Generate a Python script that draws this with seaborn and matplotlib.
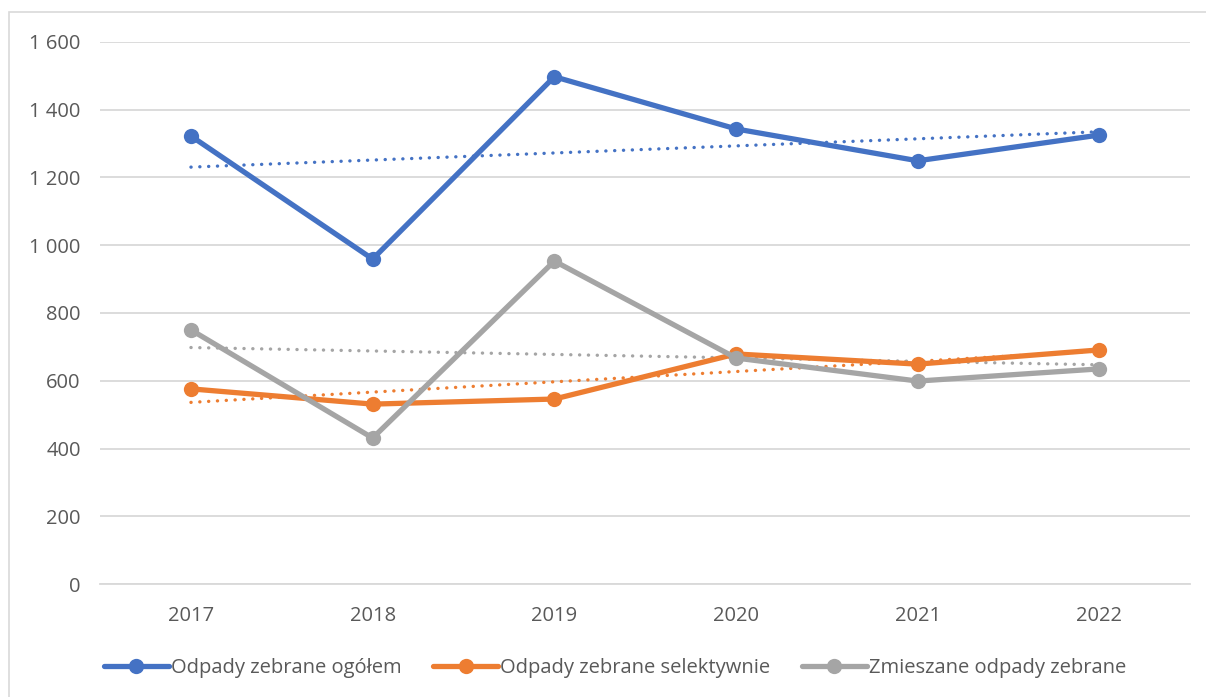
import numpy as np
import pandas as pd
import matplotlib
matplotlib.use("Agg")
import matplotlib.pyplot as plt
from matplotlib.lines import Line2D
from matplotlib.patches import Rectangle
import seaborn as sns

years = ["2017", "2018", "2019", "2020", "2021", "2022"]
ogolem = [1322, 959, 1497, 1343, 1249, 1325]
selektywnie = [576, 531, 546, 679, 649, 691]
zmieszane = [750, 431, 953, 667, 599, 635]

series_names = ["Odpady zebrane ogółem", "Odpady zebrane selektywnie", "Zmieszane odpady zebrane"]
series_values = [ogolem, selektywnie, zmieszane]
colors = ["#4472C4", "#ED7D31", "#A5A5A5"]

sns.set_theme(style="white")
plt.rcParams["font.family"] = ["Open Sans", "DejaVu Sans"]

fig = plt.figure(figsize=(12.06, 6.97), dpi=100)
ax = fig.add_axes([0.083, 0.162, 0.904, 0.778])

x = np.arange(len(years))
for name, vals, col in zip(series_names, series_values, colors):
    df = pd.DataFrame({"x": x, "y": vals})
    sns.lineplot(data=df, x="x", y="y", ax=ax, color=col, linewidth=3.8,
                 marker="o", markersize=11, markeredgewidth=0, zorder=3)
    # linear trend line
    k, b = np.polyfit(x, np.array(vals, dtype=float), 1)
    ax.plot(x, k * x + b, color=col, linewidth=2.4, linestyle=(0, (0.05, 2.6)),
            dash_capstyle="round", zorder=2)

ax.set_xlim(-0.5, len(years) - 0.5)
ax.set_ylim(0, 1600)
ax.set_yticks(np.arange(0, 1601, 200))
ax.set_yticklabels([f"{v:,}".replace(",", " ") for v in range(0, 1601, 200)])
ax.set_xticks(x)
ax.set_xticklabels(years)
ax.set_xlabel("")
ax.set_ylabel("")
ax.grid(axis="y", color="#D9D9D9", linewidth=1.3)
for s in ["top", "right", "left"]:
    ax.spines[s].set_visible(False)
ax.spines["bottom"].set_color("#D9D9D9")
ax.spines["bottom"].set_linewidth(1.3)
ax.tick_params(axis="both", colors="#595959", labelsize=14.5, length=0)
ax.tick_params(axis="y", pad=14)
ax.tick_params(axis="x", pad=16)

handles = [Line2D([0], [0], color=c, linewidth=3.8, marker="o", markersize=11,
                  markeredgewidth=0) for c in colors]
fig.legend(handles, series_names, loc="center", bbox_to_anchor=(0.51, 0.042),
           ncol=3, frameon=False, fontsize=14.5, handlelength=3.2,
           handletextpad=0.1, columnspacing=1.6, labelcolor="#595959")

fig.add_artist(Rectangle((9 / 1206, -0.01), 1.02, (697 - 12) / 697 + 0.01,
                         transform=fig.transFigure, fill=False,
                         edgecolor="#D9D9D9", linewidth=1.2))

fig.savefig("out.png", dpi=100)
